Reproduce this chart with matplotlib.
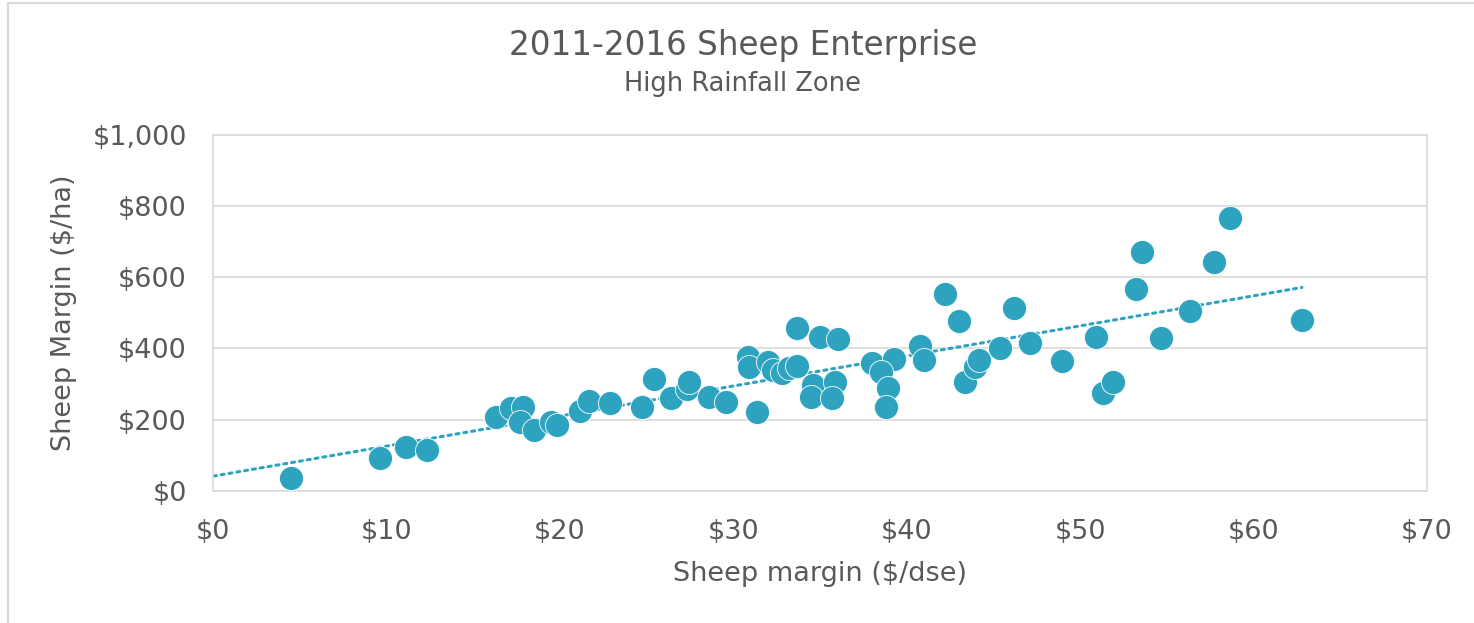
import matplotlib
matplotlib.use("Agg")
import matplotlib.pyplot as plt
import numpy as np
from matplotlib.patches import Rectangle

plt.rcParams['font.family'] = ['DejaVu Sans']

title = "2011-2016 Sheep Enterprise"
subtitle = "High Rainfall Zone"
x_label = "Sheep margin ($/dse)"
y_label = "Sheep Margin ($/ha)"

margin_dse = [4.5, 9.6, 11.1, 12.3, 16.3, 17.2, 17.85, 17.7, 18.5, 19.5, 19.8,
              21.15, 21.7, 22.9, 24.75, 25.45, 26.4, 27.3, 27.45, 28.6, 29.55,
              31.35, 30.85, 30.9, 32.0, 32.3, 32.8, 33.2, 33.65, 33.7, 35.0,
              36.05, 34.6, 34.5, 35.85, 35.7, 38.0, 39.25, 38.5, 38.95, 38.8,
              40.75, 41.0, 42.2, 43.0, 43.35, 43.95, 44.15, 45.4, 46.2, 47.1,
              48.95, 50.95, 51.3, 51.9, 53.25, 53.55, 54.7, 56.35, 57.75, 58.65,
              62.8]
margin_ha = [37, 92, 124, 115, 209, 232, 235, 195, 171, 195, 185,
             224, 253, 248, 235, 313, 262, 285, 307, 265, 251,
             221, 377, 349, 363, 340, 330, 345, 351, 457, 431,
             427, 297, 265, 305, 260, 358, 370, 335, 290, 235,
             407, 368, 553, 477, 307, 349, 368, 400, 515, 416,
             366, 433, 274, 305, 567, 672, 430, 506, 643, 765,
             480]

x_ticks = [0, 10, 20, 30, 40, 50, 60, 70]
y_ticks = [0, 200, 400, 600, 800, 1000]

col = '#2EA3BF'
txt = '#595959'
grid = '#D9D9D9'

fig = plt.figure(figsize=(14.74, 6.23), dpi=100)
fig.patches.append(Rectangle((8/1474, -0.1), 1.2, (623-3)/623 + 0.1, transform=fig.transFigure,
                             fill=False, edgecolor='#D9D9D9', linewidth=1.5))
ax = fig.add_axes([213.3/1474, 1 - 491/623, (1426.7-213.3)/1474, (491-134.7)/623])

x = np.array(margin_dse)
y = np.array(margin_ha)
k, b = np.polyfit(x, y, 1)
xs = np.array([0, x.max()])
ax.plot(xs, k*xs + b, linestyle=(0, (1, 1.6)), color=col, linewidth=2.2,
        dash_capstyle='round', zorder=2)
ax.scatter(x, y, s=300, color=col, edgecolors='white', linewidths=0.6, zorder=3)

ax.set_xlim(0, 70)
ax.set_ylim(0, 1000)
ax.set_xticks(x_ticks)
ax.set_yticks(y_ticks)
ax.set_xticklabels([f"${v}" for v in x_ticks])
ax.set_yticklabels([f"${v:,}" for v in y_ticks])
ax.tick_params(length=0, labelsize=19.5, colors=txt)
ax.tick_params(axis='x', pad=20.5)
ax.tick_params(axis='y', pad=19)
ax.grid(axis='y', color=grid, linewidth=1.2)
ax.set_axisbelow(True)
for s in ax.spines.values():
    s.set_color(grid)
    s.set_linewidth(1.2)

ax.set_xlabel(x_label, fontsize=19.5, color=txt, labelpad=11)
ax.set_ylabel(y_label, fontsize=19.5, color=txt, labelpad=11)

cx = 743 / 1474
fig.text(cx, 1 - 45/623, title, ha='center', va='center', fontsize=23.5, color=txt)
fig.text(cx, 1 - 84/623, subtitle, ha='center', va='center', fontsize=18.5, color=txt)

fig.savefig("out.png", dpi=100)
